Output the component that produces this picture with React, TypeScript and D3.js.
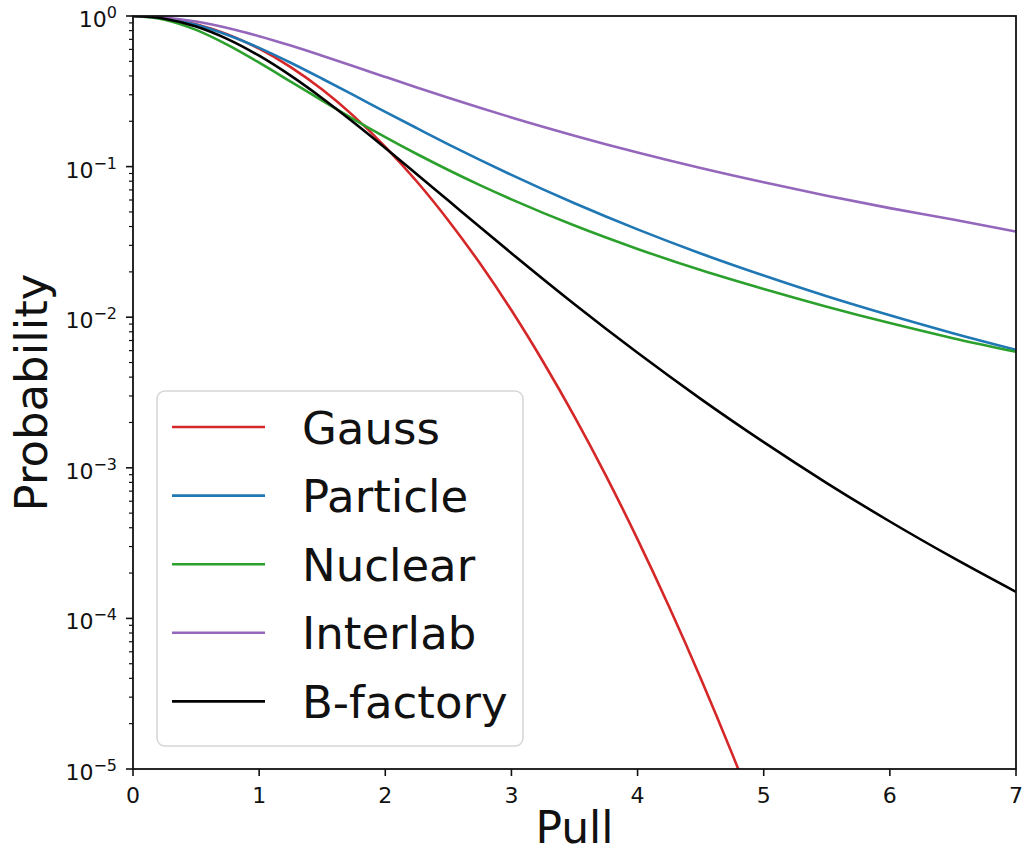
import React from "react";
import * as d3 from "d3";

const pulls = [0, 0.25, 0.5, 0.75, 1, 1.25, 1.5, 1.75, 2, 2.25, 2.5, 2.75, 3, 3.5, 4, 4.5, 5, 5.5, 6, 6.5, 7];

const gaussPulls = [0, 0.25, 0.5, 0.75, 1, 1.25, 1.5, 1.75, 2, 2.25, 2.5, 2.75, 3, 3.25, 3.5, 3.75, 4, 4.25, 4.5, 4.75, 5];
const gaussVals = [1, 0.969, 0.8825, 0.7548, 0.6065, 0.4578, 0.3247, 0.2163, 0.1353, 0.0796, 0.0439, 0.02279, 0.01111, 0.00508, 0.002187, 0.000884, 0.000335, 0.0001195, 0.0000401, 0.0000126, 0.0000037];

const particleVals = [1, 0.966, 0.874, 0.748, 0.614, 0.489, 0.383, 0.298, 0.231, 0.18, 0.1406, 0.1109, 0.0881, 0.0571, 0.0383, 0.0265, 0.0189, 0.01378, 0.0103, 0.00783, 0.00607];
const nuclearVals = [1, 0.9455, 0.8085, 0.6428, 0.49, 0.3668, 0.274, 0.2062, 0.157, 0.1212, 0.0949, 0.0753, 0.0606, 0.0406, 0.0284, 0.02055, 0.01538, 0.01174, 0.00914, 0.00726, 0.00589];
const interlabVals = [1, 0.978, 0.9186, 0.8325, 0.7344, 0.636, 0.5443, 0.4634, 0.394, 0.3355, 0.2866, 0.246, 0.212, 0.1605, 0.124, 0.0978, 0.0786, 0.0641, 0.053, 0.0445, 0.0370];
const bfactoryVals = [1, 0.96, 0.8517, 0.7026, 0.5447, 0.4014, 0.2846, 0.1963, 0.133, 0.0891, 0.0595, 0.0397, 0.0266, 0.01219, 0.0058, 0.00287, 0.00148, 0.000792, 0.00044, 0.000253, 0.00015];

const seriesNames = ["Gauss", "Particle", "Nuclear", "Interlab", "B-factory"];
const seriesColors = ["#d62728", "#1f77b4", "#2ca02c", "#9467bd", "#000000"];

const xTicks = [0, 1, 2, 3, 4, 5, 6, 7];
const yExps = [0, -1, -2, -3, -4, -5];

const W = 1025, H = 855;
const L = 133, R = 1016, T = 16, B = 769;

export default function App() {
  const x = d3.scaleLinear().domain([0, 7]).range([L, R]);
  const y = d3.scaleLog().domain([1e-5, 1]).range([B, T]);
  const line = d3
    .line<[number, number]>()
    .x((d) => x(d[0]))
    .y((d) => y(d[1]))
    .curve(d3.curveMonotoneX);

  const series: [number, number][][] = [
    gaussPulls.map((p, i) => [p, gaussVals[i]] as [number, number]),
    pulls.map((p, i) => [p, particleVals[i]] as [number, number]),
    pulls.map((p, i) => [p, nuclearVals[i]] as [number, number]),
    pulls.map((p, i) => [p, interlabVals[i]] as [number, number]),
    pulls.map((p, i) => [p, bfactoryVals[i]] as [number, number]),
  ];

  const minorTicks: number[] = [];
  for (let e = -5; e < 0; e++) {
    for (let m = 2; m <= 9; m++) minorTicks.push(m * Math.pow(10, e));
  }

  const font = "DejaVu Sans, sans-serif";
  const legendY0 = 427;
  const legendStep = 68.6;

  return (
    <svg width={W} height={H} style={{ position: "absolute", left: 0, top: 0, background: "#fff" }} fontFamily={font}>
      <defs>
        <clipPath id="plotclip">
          <rect x={L} y={T} width={R - L} height={B - T} />
        </clipPath>
      </defs>
      <rect x={0} y={0} width={W} height={H} fill="#fff" />
      <g clipPath="url(#plotclip)">
        {series.map((s, i) => (
          <path key={i} d={line(s) || ""} fill="none" stroke={seriesColors[i]} strokeWidth={2.6} strokeLinejoin="round" />
        ))}
      </g>
      {/* legend */}
      <rect x={157} y={391} width={366} height={355} rx={8} ry={8} fill="#fff" fillOpacity={0.8} stroke="#d6d6d6" strokeWidth={1.5} />
      {seriesNames.map((n, i) => {
        const ly = legendY0 + i * legendStep;
        return (
          <g key={n}>
            <line x1={172} x2={265} y1={ly} y2={ly} stroke={seriesColors[i]} strokeWidth={2.6} />
            <text x={302} y={ly + 16.5} fontSize={45} fill="#111">{n}</text>
          </g>
        );
      })}
      {/* spines */}
      <rect x={L} y={T} width={R - L} height={B - T} fill="none" stroke="#111" strokeWidth={1.8} />
      {/* x ticks */}
      {xTicks.map((t) => (
        <g key={t}>
          <line x1={x(t)} x2={x(t)} y1={B} y2={B + 7} stroke="#111" strokeWidth={1.6} />
          <text x={x(t)} y={B + 34} fontSize={22} textAnchor="middle" fill="#111">{t}</text>
        </g>
      ))}
      {/* y ticks */}
      {yExps.map((e) => {
        const v = Math.pow(10, e);
        const label = e === 0 ? "0" : "\u2212" + Math.abs(e);
        return (
          <g key={e}>
            <line x1={L - 7} x2={L} y1={y(v)} y2={y(v)} stroke="#111" strokeWidth={1.6} />
            <text x={117} y={y(v) + 11} fontSize={22} textAnchor="end" fill="#111">
              <tspan>10</tspan>
              <tspan dy={-9} fontSize={16}>{label}</tspan>
            </text>
          </g>
        );
      })}
      {minorTicks.map((v, i) => (
        <line key={i} x1={L - 4} x2={L} y1={y(v)} y2={y(v)} stroke="#111" strokeWidth={1.2} />
      ))}
      {/* axis labels */}
      <text x={(L + R) / 2} y={843} fontSize={44} textAnchor="middle" fill="#111">Pull</text>
      <text transform={`translate(47, ${(T + B) / 2}) rotate(-90)`} fontSize={45} textAnchor="middle" fill="#111">Probability</text>
    </svg>
  );
}
